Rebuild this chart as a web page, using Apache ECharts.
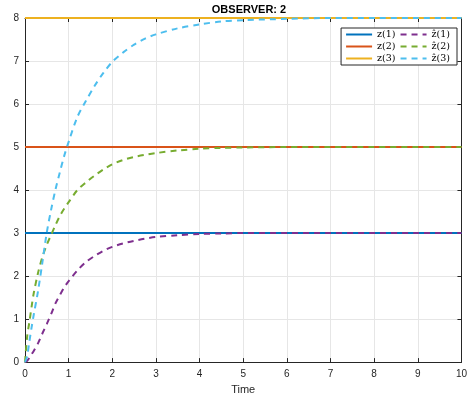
<!DOCTYPE html>
<html>
<head>
<meta charset="utf-8">
<script src="https://cdn.jsdelivr.net/npm/echarts@6/dist/echarts.min.js"></script>
<style>html,body{margin:0;padding:0;background:#fff;}#c{width:470px;height:400px;}</style>
</head>
<body>
<div id="c"></div>
<script>
var titleText = 'OBSERVER: 2';
var xName = 'Time';
var xTicks = [0,1,2,3,4,5,6,7,8,9,10];
var yTicks = [0,1,2,3,4,5,6,7,8];
var zNames = ['z(1)','z(2)','z(3)'];
var zHatNames = ['\u1e91(1)','\u1e91(2)','\u1e91(3)'];
var zValues = [3, 5, 8];
var time = [0,0.05,0.1,0.15,0.2,0.3,0.4,0.5,0.6,0.7,0.8,0.9,1.0,1.2,1.4,1.6,1.8,2.0,2.25,2.5,2.75,3.0,3.5,4.0,4.5,5,6,7,8,9,10];
var zHat1 = [0,0.03,0.1,0.18,0.26,0.44,0.67,0.89,1.12,1.37,1.56,1.74,1.88,2.13,2.33,2.47,2.59,2.68,2.76,2.82,2.87,2.91,2.95,2.98,2.99,3.0,3,3,3,3,3];
var zHat2 = [0,0.6,0.93,1.28,1.6,2.08,2.45,2.73,2.96,3.19,3.4,3.57,3.72,4.0,4.18,4.34,4.48,4.6,4.7,4.77,4.82,4.86,4.92,4.96,4.98,4.99,5,5,5,5,5];
var zHat3 = [0,0.14,0.48,0.8,1.1,1.66,2.33,3.02,3.55,4.02,4.42,4.8,5.12,5.7,6.08,6.43,6.73,6.98,7.2,7.38,7.52,7.62,7.76,7.85,7.92,7.95,7.98,8,8,8,8];

var solidColors = ['#0072BD','#D95319','#EDB120'];
var dashColors = ['#7E2F8E','#77AC30','#4DBEEE'];
var hats = [zHat1, zHat2, zHat3];

function pairs(ys){ return time.map(function(t,i){ return [t, ys[i]]; }); }

var series = [];
var legendData = [];
for (var i = 0; i < 3; i++) {
  series.push({
    name: zNames[i], type: 'line', symbol: 'none', z: 2,
    data: [[xTicks[0], zValues[i]], [xTicks[xTicks.length-1], zValues[i]]],
    lineStyle: { color: solidColors[i], width: 2 }, itemStyle: { color: solidColors[i] }
  });
}
for (var i = 0; i < 3; i++) {
  series.push({
    name: zHatNames[i], type: 'line', symbol: 'none', smooth: 0.3, z: 3,
    data: pairs(hats[i]),
    lineStyle: { color: dashColors[i], width: 2, type: [6,5] }, itemStyle: { color: dashColors[i] }
  });
}
for (var i = 0; i < 3; i++) { legendData.push(zNames[i]); legendData.push(zHatNames[i]); }

var axisCol = '#262626';
function xAx(pos, showLabel){
  return {
    type: 'value', position: pos, min: 0, max: 10, interval: 1,
    name: showLabel ? xName : '', nameLocation: 'middle', nameGap: 20,
    nameTextStyle: { fontFamily: 'Liberation Sans', fontSize: 11, color: axisCol },
    axisLine: { show: true, onZero: false, lineStyle: { color: axisCol, width: 1 } },
    axisTick: { show: true, inside: true, length: 4, lineStyle: { color: axisCol } },
    axisLabel: { show: showLabel, fontFamily: 'Liberation Sans', fontSize: 10, color: axisCol, margin: 7 },
    splitLine: { show: showLabel, lineStyle: { color: '#e6e6e6', width: 1 } }
  };
}
function yAx(pos, showLabel){
  return {
    type: 'value', position: pos, min: 0, max: 8, interval: 1,
    axisLine: { show: true, onZero: false, lineStyle: { color: axisCol, width: 1 } },
    axisTick: { show: true, inside: true, length: 4, lineStyle: { color: axisCol } },
    axisLabel: { show: showLabel, fontFamily: 'Liberation Sans', fontSize: 10, color: axisCol, margin: 6 },
    splitLine: { show: showLabel, lineStyle: { color: '#e6e6e6', width: 1 } }
  };
}

var chart = echarts.init(document.getElementById('c'), null, { renderer: 'canvas' });
chart.setOption({
  animation: false,
  backgroundColor: '#ffffff',
  title: { text: titleText, left: 244, textAlign: 'center', top: -1,
    textStyle: { fontFamily: 'Liberation Sans', fontSize: 11, fontWeight: 'bold', color: '#000' } },
  grid: { left: 25, right: 7, top: 18, bottom: 36, containLabel: false },
  xAxis: [xAx('bottom', true), xAx('top', false)],
  yAxis: [yAx('left', true), yAx('right', false)],
  legend: {
    data: legendData, right: 13, top: 28, width: 108, orient: 'horizontal',
    itemWidth: 26, itemHeight: 9, itemGap: 1,
    padding: [1, 4, 1, 4],
    itemStyle: { opacity: 0 },
    backgroundColor: '#fff', borderColor: axisCol, borderWidth: 1, borderRadius: 0,
    textStyle: { fontFamily: 'DejaVu Serif', fontSize: 9.5, lineHeight: 11, color: '#000', padding: [0, 3, 0, 0] }
  },
  series: series
});
</script>
</body>
</html>
